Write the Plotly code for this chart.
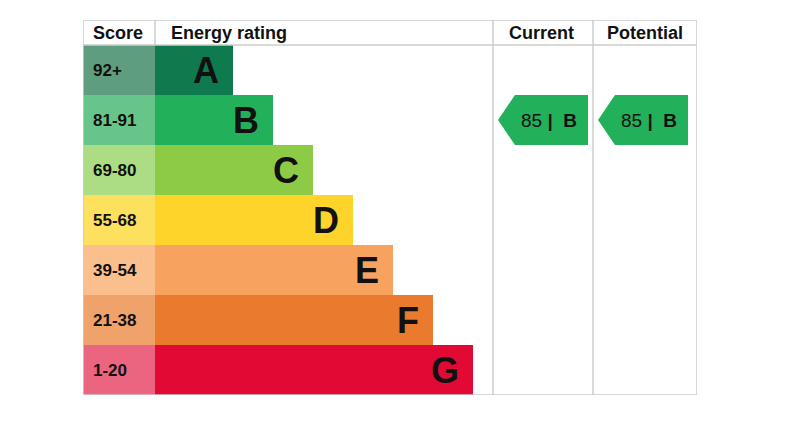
import plotly.graph_objects as go

ratings = ["A", "B", "C", "D", "E", "F", "G"]
scores = ["92+", "81-91", "69-80", "55-68", "39-54", "21-38", "1-20"]
bar_lengths = [78, 118, 158, 198, 238, 278, 318]
bar_colors = ["#107a4f", "#23b05a", "#8dcb47", "#fed32a", "#f7a35f", "#ea7a2d", "#e20a34"]
score_colors = ["#5e9e7f", "#68c589", "#acdd84", "#fee05f", "#fabf8d", "#f0a26b", "#ec6580"]
current_value, current_rating = 85, "B"
potential_value, potential_rating = 85, "B"

W, SCORE_W, HEAD_H, ROW_H = 614, 72, 25, 50
CUR_X0, POT_X0, COL_W = 410, 510, 100
rows = [HEAD_H + ROW_H * (i + 0.5) for i in range(len(ratings))]

fig = go.Figure()
fig.add_trace(go.Bar(y=rows, x=[SCORE_W] * 7, base=0, orientation="h", width=ROW_H,
                     marker=dict(color=score_colors, line_width=0), hoverinfo="skip"))
fig.add_trace(go.Bar(y=rows, x=bar_lengths, base=SCORE_W, orientation="h", width=ROW_H,
                     marker=dict(color=bar_colors, line_width=0), hoverinfo="skip"))

font = "Liberation Sans, Arial, sans-serif"
for i, r in enumerate(ratings):
    fig.add_annotation(x=SCORE_W + bar_lengths[i] - 12, y=rows[i], text=f"<b>{r}</b>", showarrow=False,
                       xanchor="right", font=dict(size=36, color="#111", family=font))
    fig.add_annotation(x=8, y=rows[i], text=f"<b>{scores[i]}</b>", showarrow=False,
                       xanchor="left", font=dict(size=17, color="#111", family=font))

def arrow(x0, value, rating):
    idx = ratings.index(rating)
    yc = rows[idx]
    t, b = yc - ROW_H / 2, yc + ROW_H / 2
    xs = [x0 + 5, x0 + 22, x0 + 95, x0 + 95, x0 + 22, x0 + 5]
    ys = [yc, t, t, b, b, yc]
    fig.add_trace(go.Scatter(x=xs, y=ys, fill="toself", fillcolor=bar_colors[idx], mode="lines",
                             line=dict(width=0, color=bar_colors[idx]), hoverinfo="skip"))
    fig.add_annotation(x=x0 + 56, y=yc, text=f"{value} <b>|</b>  <b>{rating}</b>", showarrow=False,
                       font=dict(size=19, color="#111", family=font))

arrow(CUR_X0, current_value, current_rating)
arrow(POT_X0, potential_value, potential_rating)

heads = [("Score", 8), ("Energy rating", 86), ("Current", CUR_X0 + 14), ("Potential", POT_X0 + 12)]
for txt, x in heads:
    fig.add_annotation(x=x, y=HEAD_H / 2, text=f"<b>{txt}</b>", showarrow=False, xanchor="left",
                       font=dict(size=18, color="#111", family=font))

lc = dict(color="#cccccc", width=1.5)
fig.add_shape(type="rect", x0=0, x1=W, y0=0, y1=375, line=lc, layer="above")
fig.add_shape(type="line", x0=0, x1=W, y0=HEAD_H, y1=HEAD_H, line=lc)
for x in [SCORE_W, CUR_X0, POT_X0]:
    fig.add_shape(type="line", x0=x, x1=x, y0=0, y1=HEAD_H if x == SCORE_W else 375, line=lc)

fig.update_layout(width=802, height=427, margin=dict(l=75, r=113, t=12, b=40),
                  plot_bgcolor="white", paper_bgcolor="white", showlegend=False,
                  barmode="overlay", bargap=0,
                  xaxis=dict(range=[0, W], visible=False, fixedrange=True),
                  yaxis=dict(range=[375, 0], visible=False, fixedrange=True))
fig.write_html("out.html")
